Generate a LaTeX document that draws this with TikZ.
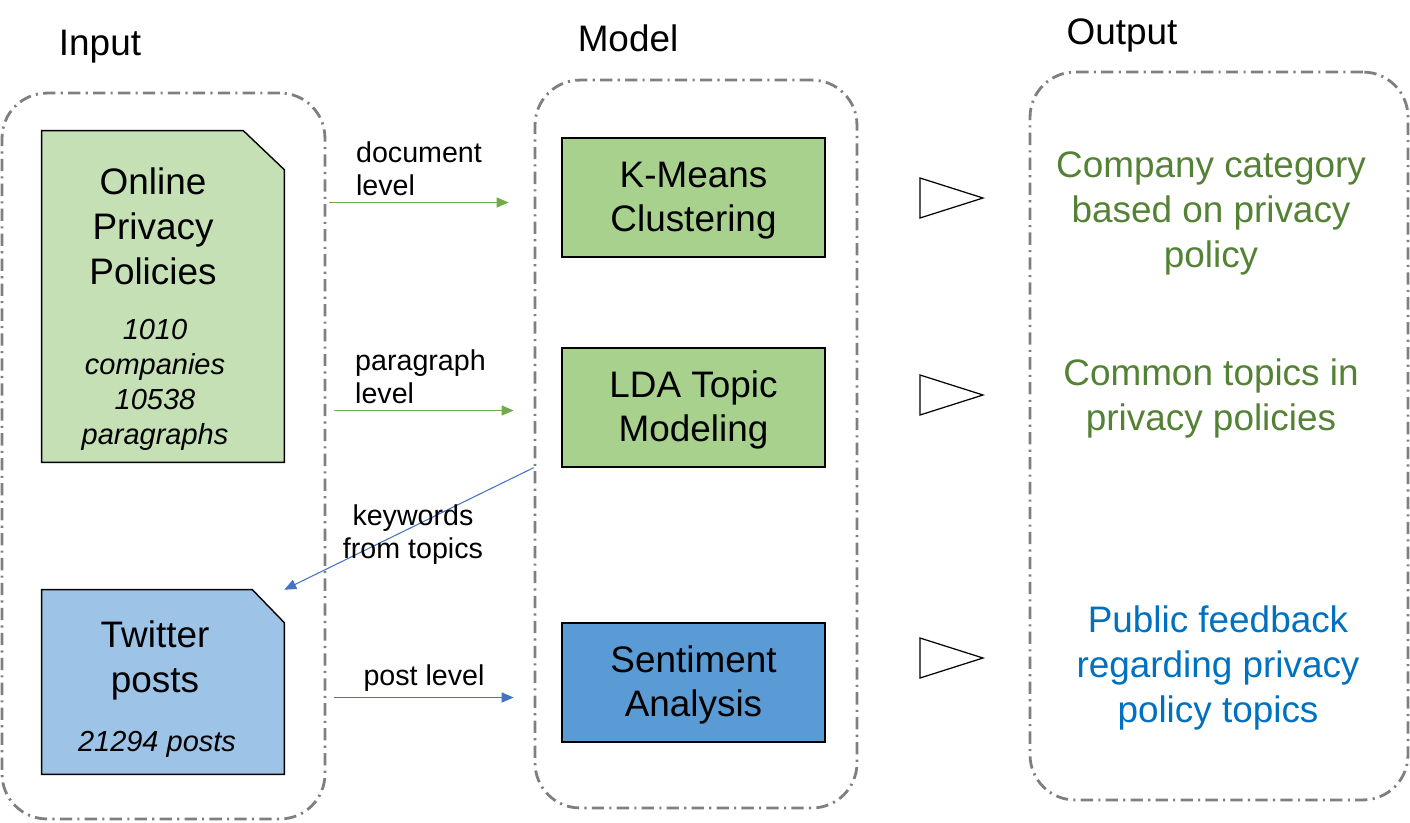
\documentclass[tikz,border=0pt]{standalone}
\usepackage{fontspec}
\setmainfont{Liberation Sans}
\usetikzlibrary{positioning,arrows.meta}

\definecolor{grpgray}{HTML}{7F7F7F}
\definecolor{litgreen}{HTML}{C5E0B4}
\definecolor{midgreen}{HTML}{A9D18E}
\definecolor{litblue}{HTML}{9DC3E6}
\definecolor{midblue}{HTML}{5B9BD5}
\definecolor{txtgreen}{HTML}{548235}
\definecolor{txtblue}{HTML}{0070C0}
\definecolor{arrgreen}{HTML}{70AD47}
\definecolor{arrblue}{HTML}{4472C4}

\newcommand{\bigtxt}{\fontsize{21}{25.6}\selectfont}
\newcommand{\lbltxt}{\fontsize{16.3}{18.8}\selectfont}
\newcommand{\numtxt}{\fontsize{16.5}{19.9}\selectfont\itshape}

\tikzset{
  grp/.style 2 args={draw=grpgray, line width=1.6pt, rounded corners=0.9cm,
    dash pattern=on 7pt off 3pt on 1.2pt off 3pt, minimum width=#1, minimum height=#2},
  docarea/.style 2 args={inner sep=0pt, minimum width=#1, minimum height=#2},
  docline/.style={draw=black, line width=0.8pt},
  method/.style={draw=black, line width=0.8pt, inner sep=0pt, minimum width=5.26cm,
    minimum height=2.38cm, align=center, font=\bigtxt},
  ttl/.style={font=\bigtxt},
  big/.style={align=center, font=\bigtxt},
  num/.style={align=center, font=\numtxt},
  lbl/.style={font=\lbltxt},
  garrow/.style={draw=arrgreen, line width=0.6pt, -{Triangle[length=6.8pt,width=5.7pt]}},
  barrow/.style={draw=arrblue, line width=0.6pt, -{Triangle[length=6.8pt,width=5.7pt]}},
  tri/.style={draw=black, line width=0.7pt, line join=miter}
}

\begin{document}
\begin{tikzpicture}[x=0.02cm, y=-0.02cm]
\useasboundingbox (0,0) rectangle (1410,822);

% groups
\node[grp={6.46cm}{14.52cm}] (inpgrp) at (163.5,456) {};
\node[grp={6.44cm}{14.56cm}] (mdlgrp) at (696,444) {};
\node[grp={7.56cm}{14.56cm}] (outgrp) at (1219,436) {};

\node[ttl] (ttlin) at (100,47) {Input};
\node[ttl] (ttlmdl) at (628,38) {Model};
\node[ttl] (ttlout) at (1122,35) {Output};

% input documents
\node[docarea={4.84cm}{6.62cm}] (opp) at (163,296.5) {};
\node[docarea={4.84cm}{3.68cm}] (tw) at (163,682) {};
\filldraw[docline, fill=litgreen] (opp.north west) -- ([shift={(-41,0)}]opp.north east)
  -- ([shift={(0,39)}]opp.north east) -- (opp.south east) -- (opp.south west) -- cycle;
\filldraw[docline, fill=litblue] (tw.north west) -- ([shift={(-32,0)}]tw.north east)
  -- ([shift={(0,33)}]tw.north east) -- (tw.south east) -- (tw.south west) -- cycle;

\node[big] (oppt) at (153,226) {Online\\Privacy\\Policies};
\node[num] (oppn) at (155,385) {1010\\companies\\10538\\paragraphs};
\node[big] (twt) at (155,660) {Twitter\\posts};
\node[num] (twn) at (157,744) {21294 posts};

% models
\node[method, fill=midgreen] (km) at (693.5,197.5) {\rule{0pt}{18pt}K-Means\\Clustering};
\node[method, fill=midgreen] (lda) at (693.5,407.5) {\rule{0pt}{18pt}LDA Topic\\Modeling};
\node[method, fill=midblue] (sa) at (693.5,682.5) {\rule{0pt}{18pt}Sentiment\\Analysis};

% connectors
\draw[garrow] ([shift={(3,5)}]inpgrp.east |- km.west) -- ([shift={(-25,5)}]mdlgrp.west |- km.west)
  node[midway, above, lbl, align=left] {document\\level};
\draw[garrow] ([shift={(8,3)}]inpgrp.east |- lda.west) -- ([shift={(-20,3)}]mdlgrp.west |- lda.west)
  node[midway, above, lbl, align=left, xshift=-2pt] {paragraph\\level};
\draw[barrow] (mdlgrp.west |- lda.south) -- (tw.north east)
  node[midway, lbl, align=center, shift={(4,6)}] {keywords\\from topics};
\draw[barrow] ([shift={(8,15)}]inpgrp.east |- sa.west) -- ([shift={(-20,15)}]mdlgrp.west |- sa.west)
  node[midway, above, lbl] {post level};

% outputs
\foreach \y in {198,395,658} {
    \draw[tri] (920,\y-20) -- (983,\y) -- (920,\y+20) -- cycle;
}
\node[big, text=txtgreen] (out1) at (1211,213) {Company category\\based on privacy\\policy};
\node[big, text=txtgreen] (out2) at (1211,398) {Common topics in\\privacy policies};
\node[big, text=txtblue] (out3) at (1218,668) {Public feedback\\regarding privacy\\policy topics};
\end{tikzpicture}
\end{document}
